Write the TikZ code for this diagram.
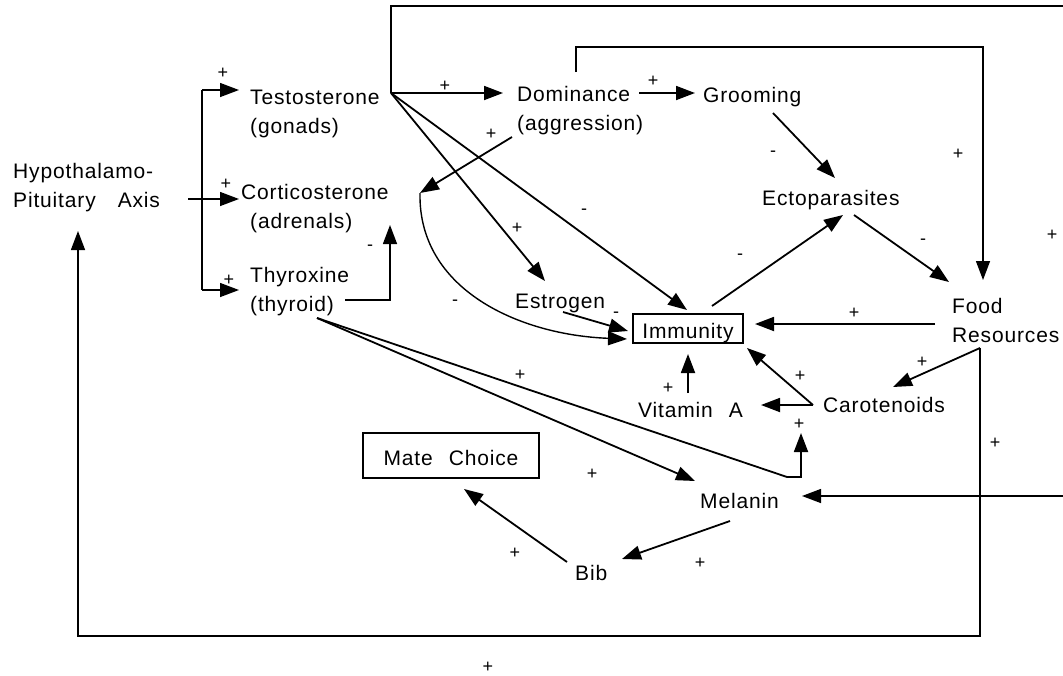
\documentclass[tikz,border=0pt]{standalone}
\usepackage{fontspec}
\setmainfont{Liberation Sans}[LetterSpace=4]
\usetikzlibrary{arrows.meta}
\begin{document}
\begin{tikzpicture}[x=1pt,y=-1pt,
  conn/.style={line width=1.8pt},
  loopline/.style={line width=1.4pt},
  arr/.style={-{Triangle[length=19pt,width=14pt]}},
  txt/.style={inner sep=0pt, anchor=base west, align=left, font=\fontsize{21}{28.5}\selectfont},
  sgn/.style={inner sep=0pt, font=\fontsize{18}{18}\selectfont},
  boxed/.style={draw, line width=1.3pt, inner sep=0pt, text height=19pt, text depth=0pt, font=\fontsize{21}{28.5}\selectfont}
]
\useasboundingbox (0,0) rectangle (1063,675);
\clip (0,0) rectangle (1063,675);

% ---------- nodes (multi-line nodes anchored at the baseline of their last line) ----------
\node[txt] (hyp) at (13,207) {Hypothalamo-\\Pituitary\hspace{22pt}Axis};
\node[txt] (testo) at (250,133) {Testosterone\\(gonads)};
\node[txt] (cort) at (241,228) {Corticosterone\\\hspace*{9pt}(adrenals)};
\node[txt] (thyr) at (250,311) {Thyroxine\\(thyroid)};
\node[txt] (dom) at (517,130) {Dominance\\(aggression)};
\node[txt] (groom) at (703,102) {Grooming};
\node[txt] (ecto) at (762,205) {Ectoparasites};
\node[txt] (estr) at (515,308) {Estrogen};
\node[boxed, minimum width=110pt, minimum height=29pt] (imm) at (688,328.5) {Immunity};
\node[txt] (food) at (952,342) {Food\\Resources};
\node[txt] (vita) at (638,417) {Vitamin\hspace{16pt}A};
\node[txt] (caro) at (823,412) {Carotenoids};
\node[boxed, minimum width=176pt, minimum height=45pt] (mate) at (451,455.5) {Mate\hspace{16pt}Choice};
\node[txt] (mel) at (700,508) {Melanin};
\node[txt] (bib) at (575,580) {Bib};

% ---------- connector end points ----------
\coordinate (hypOut) at (188,199);
\coordinate (brTop) at (202,90);
\coordinate (brBot) at (202,290);
\coordinate (testoIn) at (239,90);
\coordinate (cortIn) at (239,199);
\coordinate (thyrIn) at (239,290);
\coordinate (thyrOut) at (345,300);
\coordinate (thyrCorner) at (390,300);
\coordinate (cortBot) at (390,225);
\coordinate (testoOut) at (391,93);
\coordinate (topLeft) at (391,6);
\coordinate (topRight) at (1075,6);
\coordinate (melRight) at (1075,496);
\coordinate (melIn) at (802,496);
\coordinate (domIn) at (503,93);
\coordinate (estrIn) at (545,281);
\coordinate (immTop) at (687,310);
\coordinate (domOut) at (639,93);
\coordinate (groomIn) at (695,93);
\coordinate (domLow) at (512,137);
\coordinate (cortRight) at (420,193);
\coordinate (domTop) at (576,72);
\coordinate (domTopC) at (576,47);
\coordinate (foodTopC) at (983,47);
\coordinate (foodTop) at (983,280);
\coordinate (groomOut) at (773,113);
\coordinate (ectoIn) at (835,178);
\coordinate (ectoOut) at (854,215);
\coordinate (foodIn) at (949,282);
\coordinate (immOut) at (712,306);
\coordinate (ectoIn2) at (843,215);
\coordinate (immCurveIn) at (627,339);
\coordinate (estrOut) at (563,312);
\coordinate (immEstrIn) at (628,331);
\coordinate (foodOut) at (935,324);
\coordinate (immRight) at (755,324);
\coordinate (foodLow) at (980,348);
\coordinate (caroIn) at (893,387);
\coordinate (foodBotC) at (980,636);
\coordinate (hypBotC) at (78,636);
\coordinate (hypBot) at (78,231);
\coordinate (caroOut) at (813,405);
\coordinate (immCaroIn) at (747,348);
\coordinate (vitaIn) at (761,405);
\coordinate (vitaOut) at (688,393);
\coordinate (immBot) at (688,354);
\coordinate (thyrLow) at (317,318);
\coordinate (bendA) at (787,477);
\coordinate (bendB) at (801,477);
\coordinate (caroBot) at (801,433);
\coordinate (melIn2) at (695,481);
\coordinate (melOut) at (730,521);
\coordinate (bibIn) at (622,559);
\coordinate (bibOut) at (567,562);
\coordinate (mateIn) at (464,489);

% ---------- connectors ----------
\draw[loopline] (brTop) -- (brBot);
\draw[loopline,arr] (hypOut) -- (cortIn);
\draw[loopline,arr] (brTop) -- (testoIn);
\draw[loopline,arr] (brBot) -- (thyrIn);
\draw[loopline,arr] (thyrOut) -- (thyrCorner) -- (cortBot);
\draw[loopline] (testoOut) -- (topLeft) -- (topRight) -- (melRight);
\draw[loopline,arr] (melRight) -- (melIn);
\draw[conn,arr] (testoOut) -- (domIn);
\draw[conn,arr] (testoOut) -- (estrIn);
\draw[conn,arr] (testoOut) -- (immTop);
\draw[conn,arr] (domOut) -- (groomIn);
\draw[conn,arr] (domLow) -- (cortRight);
\draw[loopline,arr] (domTop) -- (domTopC) -- (foodTopC) -- (foodTop);
\draw[conn,arr] (groomOut) -- (ectoIn);
\draw[conn,arr] (ectoOut) -- (foodIn);
\draw[conn,arr] (immOut) -- (ectoIn2);
\draw[loopline,arr] (cortRight) .. controls (418,290) and (520,335) .. (immCurveIn);
\draw[conn,arr] (estrOut) -- (immEstrIn);
\draw[conn,arr] (foodOut) -- (immRight);
\draw[conn,arr] (foodLow) -- (caroIn);
\draw[loopline,arr] (foodLow) -- (foodBotC) -- (hypBotC) -- (hypBot);
\draw[conn,arr] (caroOut) -- (immCaroIn);
\draw[conn,arr] (caroOut) -- (vitaIn);
\draw[conn,arr] (vitaOut) -- (immBot);
\draw[conn,arr] (thyrLow) -- (bendA) -- (bendB) -- (caroBot);
\draw[conn,arr] (thyrLow) -- (melIn2);
\draw[conn,arr] (melOut) -- (bibIn);
\draw[conn,arr] (bibOut) -- (mateIn);

% ---------- signs ----------
\node[sgn] (p1) at (223,73) {+};
\node[sgn] (p2) at (226,184) {+};
\node[sgn] (p3) at (229,280) {+};
\node[sgn] (m1) at (370,248) {-};
\node[sgn] (p4) at (445,86) {+};
\node[sgn] (p5) at (653,81) {+};
\node[sgn] (p6) at (491,134) {+};
\node[sgn] (p7) at (517,228) {+};
\node[sgn] (m2) at (584,212) {-};
\node[sgn] (p8) at (958,154) {+};
\node[sgn] (m3) at (773,154) {-};
\node[sgn] (m4) at (923,242) {-};
\node[sgn] (m5) at (740,257) {-};
\node[sgn] (p9) at (1052,235) {+};
\node[sgn] (m6) at (455,303) {-};
\node[sgn] (m7) at (616,315) {-};
\node[sgn] (p10) at (854,313) {+};
\node[sgn] (p11) at (922,362) {+};
\node[sgn] (p12) at (800,376) {+};
\node[sgn] (p13) at (668,388) {+};
\node[sgn] (p14) at (520,375) {+};
\node[sgn] (p15) at (799,424) {+};
\node[sgn] (p16) at (592,474) {+};
\node[sgn] (p17) at (995,443) {+};
\node[sgn] (p18) at (700,563) {+};
\node[sgn] (p19) at (515,553) {+};
\node[sgn] (p20) at (488,667) {+};
\end{tikzpicture}
\end{document}
